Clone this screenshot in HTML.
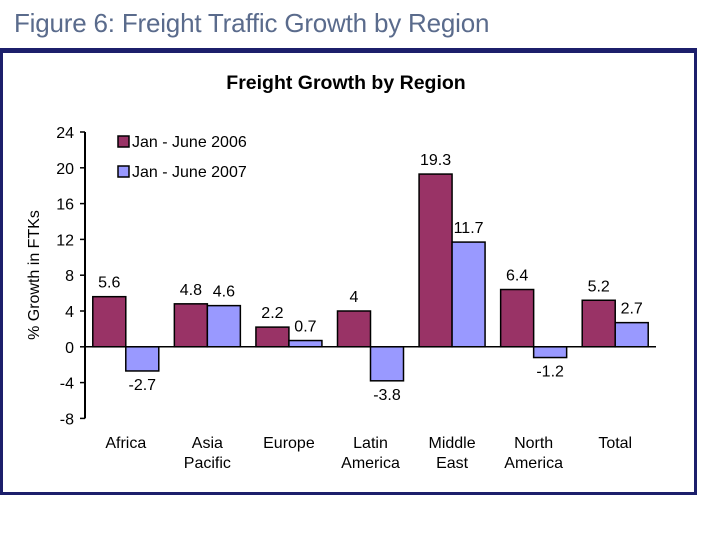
<!DOCTYPE html>
<html><head><meta charset="utf-8"><style>
body{margin:0;width:720px;height:540px;background:#fff;overflow:hidden;font-family:"Liberation Sans",sans-serif}
#fig{position:absolute;left:14px;top:8px;font-size:26px;color:#5a6b8c;letter-spacing:-0.2px}
#box{position:absolute;left:0;top:48px;width:691px;height:439px;border:3px solid #1c1f6b;border-top-width:5px}
</style></head><body>
<div id="fig">Figure 6: Freight Traffic Growth by Region</div>
<div id="box"></div>
<svg id="chart" width="720" height="540" style="position:absolute;left:0;top:0"></svg>
<script>
const categories=[["Africa"],["Asia","Pacific"],["Europe"],["Latin","America"],["Middle","East"],["North","America"],["Total"]];
const series2006=[5.6,4.8,2.2,4,19.3,6.4,5.2];
const series2007=[-2.7,4.6,0.7,-3.8,11.7,-1.2,2.7];
const labels2006=["5.6","4.8","2.2","4","19.3","6.4","5.2"];
const labels2007=["-2.7","4.6","0.7","-3.8","11.7","-1.2","2.7"];
const yTicks=[24,20,16,12,8,4,0,-4,-8];
const NS="http://www.w3.org/2000/svg";
const svg=document.getElementById('chart');
const x0=85,x1=656,catW=(x1-x0)/7;
const y=v=>346.8-v*8.95;
const cx=i=>x0+catW*(i+0.5);
function mk(t,a,txt){const e=document.createElementNS(NS,t);for(const k in a)e.setAttribute(k,a[k]);if(txt!==undefined)e.textContent=txt;svg.appendChild(e);return e;}
let t=mk('text',{x:346,y:89,'font-size':19.5,'font-weight':'bold','text-anchor':'middle',fill:'#000'},'Freight Growth by Region');


t=mk('text',{transform:'translate(39,275) rotate(-90)','font-size':16,'text-anchor':'middle',fill:'#000'},'% Growth in FTKs');


let ax=mk('line',{x1:x0,y1:y(24),x2:x0,y2:y(-8),stroke:'#000','stroke-width':2});


yTicks.forEach(v=>{
 const l=mk('line',{x1:x0-5,y1:y(v),x2:x0,y2:y(v),stroke:'#000','stroke-width':1.5});
 
 
 const tx=mk('text',{x:x0-11,y:y(v)+6,'font-size':16,'text-anchor':'end',fill:'#000'},String(v));
 
 
});
const bw=33;
categories.forEach((c,i)=>{
 const c0=cx(i);
 [[series2006,labels2006,'#993366',-bw,'bar-2006'],[series2007,labels2007,'#9999ff',0,'bar-2007']].forEach(([s,lb,col,off,nm])=>{
  const v=s[i];
  const r=mk('rect',{x:c0+off,y:Math.min(y(v),y(0)),width:bw,height:Math.abs(y(v)-y(0)),fill:col,stroke:'#000','stroke-width':1.5});
  
  
  const ly=v>=0?y(v)-9:y(v)+19;
  const tx=mk('text',{x:c0+off+bw/2,y:ly,'font-size':16,'text-anchor':'middle',fill:'#000'},lb[i]);
  
  
 });
 c.forEach((w,k)=>{
  const tx=mk('text',{x:c0,y:448+k*20,'font-size':16,'text-anchor':'middle',fill:'#000'},w);
  
  
 });
});
let xa=mk('line',{x1:x0,y1:y(0),x2:x1,y2:y(0),stroke:'#000','stroke-width':1.5});


[['#993366','Jan - June 2006',142],['#9999ff','Jan - June 2007',172]].forEach(([col,txt,yy])=>{
 const r=mk('rect',{x:118,y:yy-6,width:11,height:11,fill:col,stroke:'#000','stroke-width':1.5});
 
 
 const tx=mk('text',{x:132,y:yy+5,'font-size':16,fill:'#000'},txt);
 
 
});
</script>
</body></html>
